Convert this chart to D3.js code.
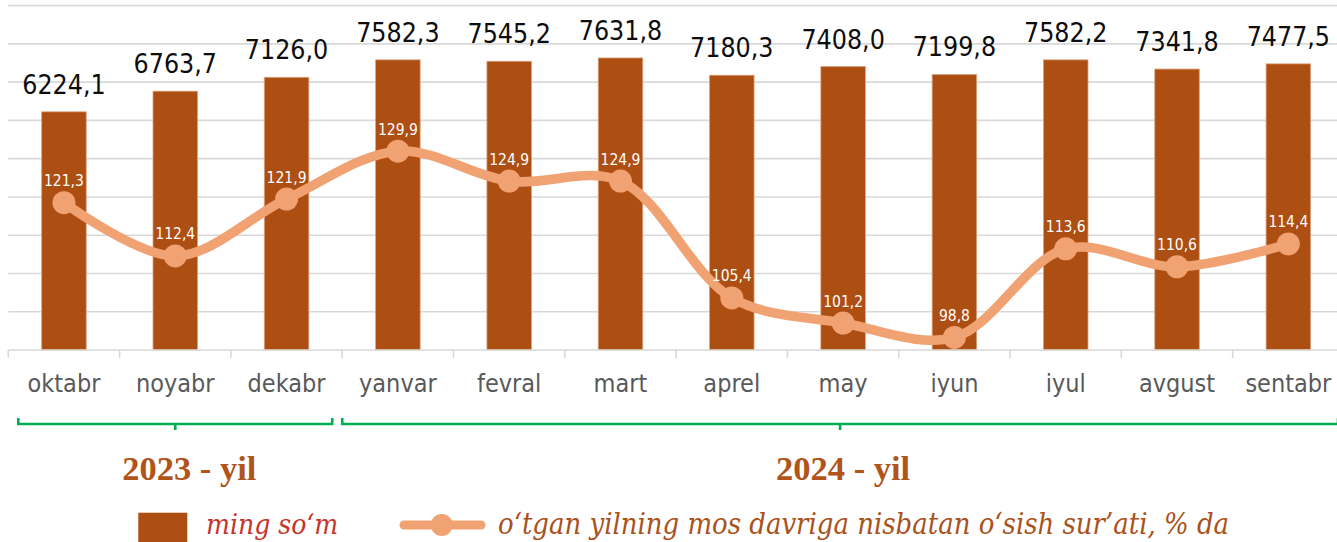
<!DOCTYPE html>
<html><head><meta charset="utf-8">
<script src="https://cdn.jsdelivr.net/npm/d3@7"></script>
<style>html,body{margin:0;padding:0;background:#fff;overflow:hidden}</style>
</head><body>
<svg id="c" width="1337" height="542"></svg>
<script>
const months = ["oktabr","noyabr","dekabr","yanvar","fevral","mart","aprel","may","iyun","iyul","avgust","sentabr"];
const wages = [6224.1,6763.7,7126.0,7582.3,7545.2,7631.8,7180.3,7408.0,7199.8,7582.2,7341.8,7477.5];
const growth = [121.3,112.4,121.9,129.9,124.9,124.9,105.4,101.2,98.8,113.6,110.6,114.4];
const yearGroups = [{label:"2023 - yil", from:0, to:2}, {label:"2024 - yil", from:3, to:11}];
const barTicks = [1000,2000,3000,4000,5000,6000,7000,8000,9000];
const legendBar = "ming so‘m";
const legendLine = "o‘tgan yilning mos davriga nisbatan o‘sish sur’ati, % da";
const fmt = v => v.toFixed(1).replace(".", ",");

const svg = d3.select("#c");
const sansFont = "'DejaVu Sans Condensed','DejaVu Sans',sans-serif";
const serifFont = "'DejaVu Serif Condensed','DejaVu Serif',serif";

const x = d3.scaleBand().domain(months).range([8.3, 1344]).paddingInner(0.6).paddingOuter(0.3);
const y = d3.scaleLinear().domain([0, 9000]).range([350, 5.6]);
const y2 = d3.scaleLinear().domain([96.7, 154.2]).range([350, 5.6]);
const step = x.step();
const bound = m => x(m) + x.bandwidth()/2 - step/2;

// gridlines
svg.append("g").selectAll("line").data(barTicks).join("line")
  .attr("x1", 8.3).attr("x2", 1344)
  .attr("y1", d => y(d)).attr("y2", d => y(d))
  .attr("stroke", "#D9D9D9").attr("stroke-width", 1.6);

// bars
svg.append("g").selectAll("rect").data(wages).join("rect")
  .attr("x", (d,i) => x(months[i])).attr("width", x.bandwidth())
  .attr("y", d => y(d)).attr("height", d => y(0) - y(d))
  .attr("fill", "#AD4E13").attr("stroke", "#DBA27C").attr("stroke-width", 0.8);

// x axis baseline and ticks
const ax = svg.append("g");
ax.append("line").attr("x1", 8.3).attr("x2", 1344).attr("y1", y(0)).attr("y2", y(0))
  .attr("stroke", "#D9D9D9").attr("stroke-width", 1.6);
ax.selectAll("line.t").data(months.concat(["_end"])).join("line").attr("class","t")
  .attr("x1", (d,i) => i < months.length ? bound(d) : bound(months[months.length-1]) + step)
  .attr("x2", (d,i) => i < months.length ? bound(d) : bound(months[months.length-1]) + step)
  .attr("y1", y(0)).attr("y2", y(0) + 8)
  .attr("stroke", "#D9D9D9").attr("stroke-width", 1.6);
ax.selectAll("text").data(months).join("text")
  .attr("x", d => x(d) + x.bandwidth()/2).attr("y", 392)
  .attr("text-anchor", "middle").attr("font-family", sansFont).attr("font-size", 25)
  .attr("fill", "#595959").text(d => d);

// bar value labels
svg.append("g").selectAll("text").data(wages).join("text")
  .attr("x", (d,i) => x(months[i]) + x.bandwidth()/2).attr("y", d => y(d) - 18)
  .attr("text-anchor", "middle").attr("font-family", sansFont).attr("font-size", 26.5)
  .attr("fill", "#0D0D0D").text(d => fmt(d));

// line
const pts = growth.map((g,i) => [x(months[i]) + x.bandwidth()/2, y2(g)]);
svg.append("path").datum(pts)
  .attr("d", d3.line().curve(d3.curveCatmullRom.alpha(0.5)))
  .attr("fill", "none").attr("stroke", "#F0A273").attr("stroke-width", 9.5)
  .attr("stroke-linecap", "round").attr("stroke-linejoin", "round");
svg.append("g").selectAll("circle").data(growth).join("circle")
  .attr("cx", (d,i) => x(months[i]) + x.bandwidth()/2).attr("cy", d => y2(d))
  .attr("r", 11.5).attr("fill", "#F0A273");
svg.append("g").selectAll("text").data(growth).join("text")
  .attr("x", (d,i) => x(months[i]) + x.bandwidth()/2).attr("y", d => y2(d) - 16.5)
  .attr("text-anchor", "middle").attr("font-family", sansFont).attr("font-size", 15.5)
  .attr("fill", "#FFFFFF").text(d => fmt(d));

// year brackets
const bg = svg.append("g");
yearGroups.forEach((g, gi) => {
  const x0 = gi === 0 ? bound(months[g.from]) + 10 : bound(months[g.from]);
  const x1 = gi === 0 ? bound(months[g.to]) + step - 10 : bound(months[g.to]) + step - 6;
  const by = 424;
  const mid = (x0 + x1) / 2;
  bg.append("path")
    .attr("d", `M${x0},${by-6}L${x0},${by}L${mid},${by}L${mid},${by+6}M${mid},${by}L${x1},${by}L${x1},${by-6}`)
    .attr("fill", "none").attr("stroke", "#00B050").attr("stroke-width", 2.6);
  bg.append("text").attr("x", mid + (gi === 0 ? 14 : 3)).attr("y", 480)
    .attr("text-anchor", "middle").attr("font-family", "'Liberation Serif',serif")
    .attr("font-weight", "bold").attr("font-size", 34.5).attr("fill", "#B0541A").text(g.label);
});

// legend
const lg = svg.append("g");
lg.append("rect").attr("x", 138.3).attr("y", 512.7).attr("width", 49).attr("height", 32).attr("fill", "#AD4E13");
lg.append("text").attr("x", 206).attr("y", 533.5).attr("font-family", serifFont).attr("font-style", "italic")
  .attr("font-size", 28).attr("fill", "#C4352A").text(legendBar);
lg.append("line").attr("x1", 404).attr("x2", 481).attr("y1", 525).attr("y2", 525)
  .attr("stroke", "#F0A273").attr("stroke-width", 9).attr("stroke-linecap", "round");
lg.append("circle").attr("cx", 441.7).attr("cy", 525).attr("r", 11).attr("fill", "#F0A273");
lg.append("text").attr("x", 498).attr("y", 533.5).attr("font-family", serifFont).attr("font-style", "italic")
  .attr("font-size", 28.9).attr("fill", "#A9521C").text(legendLine);
</script>
</body></html>
